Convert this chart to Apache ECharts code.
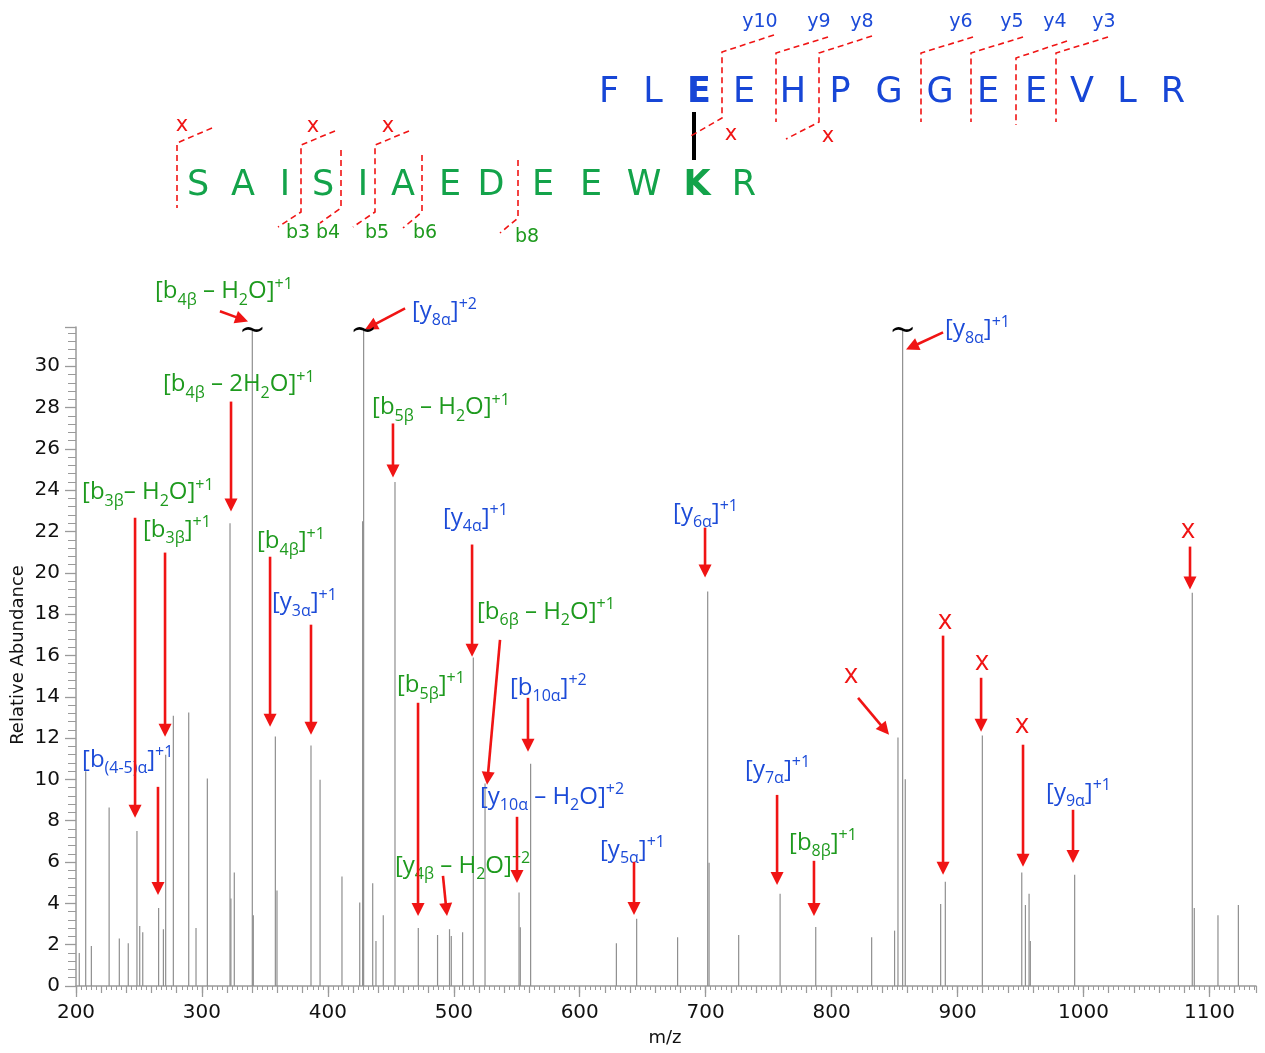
<!DOCTYPE html>
<html><head><meta charset="utf-8">
<script src="https://cdn.jsdelivr.net/npm/echarts@6/dist/echarts.min.js"></script>
<style>html,body{margin:0;padding:0;background:#fff}#c{width:1265px;height:1053px}</style>
</head><body><div id="c"></div>
<script>
// ---------------- data ----------------
const peakMz = [202.6,207.7,212.2,226.3,234.4,241.5,248.4,250.6,253.0,265.6,269.4,271.2,277.3,289.5,295.3,304.3,322.3,323.0,325.7,340.0,340.8,358.3,359.6,386.6,393.8,411.2,425.3,427.6,428.4,435.6,438.2,444.0,453.3,471.8,487.1,496.6,498.0,507.0,515.5,524.8,551.8,552.8,561.0,629.1,645.2,677.7,701.6,702.7,726.2,759.1,787.4,831.8,850.0,852.7,856.4,858.5,886.6,890.3,919.7,951.0,953.9,956.8,957.8,993.0,1086.4,1088.0,1106.8,1123.0];
const peakAbund = [1.6,10.4,1.94,8.64,2.3,2.07,7.5,2.9,2.6,3.78,2.75,11.2,13.08,13.24,2.81,10.05,22.4,4.23,5.49,31.8,3.42,12.08,4.62,11.64,9.98,5.3,4.04,22.5,31.8,4.97,2.18,3.42,24.4,2.81,2.47,2.75,2.42,2.6,15.9,9.8,4.52,2.84,10.76,2.07,3.25,2.36,19.1,5.97,2.47,4.46,2.86,2.36,2.68,12.03,31.8,10.01,3.97,5.05,12.13,5.49,3.92,4.46,2.18,5.39,19.04,3.78,3.42,3.92];
const clippedMz = [340.0, 428.4, 856.4];   // off-scale peaks, marked with "~"
const clipTop = 31.8;

// annotation labels: [markup, colour key, m/z of left edge, abundance of text middle]
const annLabels = [
 ['[b_{4β} – H_{2}O]^{+1}', 'g', 262.7, 33.62],
 ['[b_{4β} – 2H_{2}O]^{+1}', 'g', 269.1, 29.12],
 ['[b_{5β} – H_{2}O]^{+1}', 'g', 435.1, 28.00],
 ['[b_{3β}– H_{2}O]^{+1}', 'g', 204.8, 23.89],
 ['[b_{3β}]^{+1}', 'g', 253.2, 22.09],
 ['[b_{4β}]^{+1}', 'g', 343.7, 21.51],
 ['[b_{6β} – H_{2}O]^{+1}', 'g', 518.4, 18.12],
 ['[b_{5β}]^{+1}', 'g', 454.9, 14.54],
 ['[y_{4β} – H_{2}O]^{+2}', 'g', 453.3, 5.81],
 ['[b_{8β}]^{+1}', 'g', 766.2, 6.93],
 ['[y_{8α}]^{+2}', 'b', 466.8, 32.66],
 ['[y_{8α}]^{+1}', 'b', 890.1, 31.78],
 ['[y_{4α}]^{+1}', 'b', 491.4, 22.67],
 ['[y_{6α}]^{+1}', 'b', 674.1, 22.87],
 ['[y_{3α}]^{+1}', 'b', 355.6, 18.56],
 ['[b_{10α}]^{+2}', 'b', 544.6, 14.44],
 ['[b_{(4-5)α}]^{+1}', 'b', 204.8, 10.95],
 ['[y_{10α} – H_{2}O]^{+2}', 'b', 520.8, 9.16],
 ['[y_{7α}]^{+1}', 'b', 731.3, 10.47],
 ['[y_{5α}]^{+1}', 'b', 616.1, 6.59],
 ['[y_{9α}]^{+1}', 'b', 970.3, 9.35]
];
// red "x" marks: [m/z centre, abundance centre]
const annX = [[815.4,15.02],[890.1,17.64],[919.5,15.65],[951.2,12.60],[1083.0,22.04]];
// arrows: [m/z from, abundance from, m/z to, abundance to]
const annArrows = [
 [314.3,32.66,336.6,32.17],[323.1,28.29,323.1,22.97],[451.7,27.23,451.7,24.61],
 [246.9,22.67,246.9,8.14],[270.7,20.98,270.7,12.06],[354.1,20.78,354.1,12.55],
 [536.7,16.76,526.4,9.74],[471.6,13.71,471.6,3.39],[491.4,5.33,494.6,3.39],
 [786.0,6.06,786.0,3.39],[461.3,32.80,429.5,31.78],[888.5,31.64,859.1,30.81],
 [514.5,21.37,514.5,15.94],[699.5,22.19,699.5,19.77],[386.6,17.49,386.6,12.16],
 [558.9,13.95,558.9,11.34],[265.1,9.64,265.1,4.41],[550.2,8.19,550.2,4.99],
 [756.7,9.25,756.7,4.89],[643.1,6.01,643.1,3.44],[991.7,8.53,991.7,5.96],
 [821.0,13.95,845.6,12.16],[888.5,16.96,888.5,5.38],[918.7,14.92,918.7,12.31],
 [952.0,11.68,952.0,5.77],[1084.6,21.27,1084.6,19.19]
];

// peptide sequences
const seqAlpha = ['F','L','E','E','H','P','G','G','E','E','V','L','R'];
const seqBeta  = ['S','A','I','S','I','A','E','D','E','E','W','K','R'];

// ---------------- layout / style ----------------
const BLUE = '#1c4bd8', GREEN = '#1e9a1e', SEQ_BLUE = '#1746d6', SEQ_GREEN = '#13a34a', RED = '#f01414';
const LBL_FONT = "'Open Sans'";
const F_MAIN = 24, F_SMALL = 16;
const AXIS_COL = '#9a9a9a';

const chart = echarts.init(document.getElementById('c'), null, {renderer: 'canvas'});
const option = {
  animation: false,
  backgroundColor: '#fff',
  grid: {left: 76, right: 9, top: 327, bottom: 67, containLabel: false},
  xAxis: [
    {type: 'value', min: 200, max: 1137, interval: 100, position: 'bottom',
     axisLine: {lineStyle: {color: AXIS_COL, width: 1.5}},
     axisTick: {length: 11, lineStyle: {color: AXIS_COL, width: 1.3}},
     axisLabel: {fontFamily: 'DejaVu Sans', fontSize: 20, color: '#111', margin: 17,
                 formatter: v => (Math.abs(v % 100) < 1e-6 ? String(v) : ''), showMaxLabel: false},
     splitLine: {show: false}},
    {type: 'value', min: 200, max: 1137, interval: 20, position: 'bottom',
     axisLine: {show: false}, axisLabel: {show: false}, splitLine: {show: false},
     axisTick: {length: 7, lineStyle: {color: AXIS_COL, width: 1.2}},
     minorTick: {show: true, splitNumber: 5, length: 4, lineStyle: {color: AXIS_COL, width: 1}}}
  ],
  yAxis: {type: 'value', min: 0, max: 31.9, interval: 2,
     axisLine: {show: true, lineStyle: {color: AXIS_COL, width: 1.5}},
     axisTick: {show: true, length: 11, lineStyle: {color: AXIS_COL, width: 1.3}},
     minorTick: {show: true, splitNumber: 5, length: 8, lineStyle: {color: AXIS_COL, width: 1}},
     axisLabel: {fontFamily: 'DejaVu Sans', fontSize: 20, color: '#111', margin: 16,
                 formatter: v => (Math.abs(v % 2) < 1e-6 ? String(v) : ''), showMaxLabel: false},
     splitLine: {show: false}},
  series: [{
    type: 'custom', xAxisIndex: 0, yAxisIndex: 0, clip: true,
    data: peakMz.map((m, i) => [m, peakAbund[i]]),
    encode: {x: 0, y: 1},
    renderItem: (params, api) => {
      const x = api.value(0), y = api.value(1);
      const p0 = api.coord([x, 0]), p1 = api.coord([x, y]);
      return {type: 'line', shape: {x1: p0[0], y1: p0[1], x2: p1[0], y2: p1[1]},
              style: {stroke: '#8f8f8f', lineWidth: 1.2}};
    }
  }]
};
chart.setOption(option);

// ---------------- annotations ----------------
const mctx = document.createElement('canvas').getContext('2d');
function tw(t, font) { mctx.font = font; return mctx.measureText(t).width; }
const toPx = (x, y) => chart.convertToPixel({xAxisIndex: 0, yAxisIndex: 0}, [x, y]);

function txt(t, x, y, font, fill, align, valign, extra) {
  return Object.assign({type: 'text', x: x, y: y, z: 100, silent: true,
    style: {text: t, font: font, fill: fill, textAlign: align || 'left', textVerticalAlign: valign || 'middle',
            align: align || 'left', verticalAlign: valign || 'middle'}}, extra || {});
}
function richLabel(str, color, x, y) {
  const segs = []; const re = /_\{([^}]*)\}|\^\{([^}]*)\}|([^_^]+)/g; let m;
  while ((m = re.exec(str))) {
    if (m[1] !== undefined) segs.push([m[1], 1]);
    else if (m[2] !== undefined) segs.push([m[2], 2]);
    else segs.push([m[3], 0]);
  }
  const els = []; let cx = x;
  const baseMain = y + 0.35 * F_MAIN;
  segs.forEach(([t, k]) => {
    const fs = k === 0 ? F_MAIN : F_SMALL;
    const font = fs + 'px ' + LBL_FONT;
    let base = baseMain;
    if (k === 1) base = baseMain + 6;
    if (k === 2) base = baseMain - 10;
    els.push(txt(t, cx, base - 0.35 * fs, font, color));
    cx += tw(t, font);
  });
  return els;
}
function arrow(x1, y1, x2, y2) {
  const dx = x2 - x1, dy = y2 - y1, L = Math.hypot(dx, dy), ux = dx / L, uy = dy / L;
  const hl = 13, hw = 6.5, bx = x2 - ux * hl, by = y2 - uy * hl;
  return [
    {type: 'line', z: 100, silent: true, shape: {x1: x1, y1: y1, x2: bx + ux, y2: by + uy}, style: {stroke: RED, lineWidth: 2.6}},
    {type: 'polygon', z: 100, silent: true, shape: {points: [[x2, y2], [bx - uy * hw, by + ux * hw], [bx + uy * hw, by - ux * hw]]}, style: {fill: RED}}
  ];
}
function dashed(points) {
  return {type: 'polyline', z: 100, silent: true, shape: {points: points},
          style: {stroke: RED, lineWidth: 1.6, lineDash: [6, 4], fill: null}};
}

const g = [];
annLabels.forEach(([s, c, mz, v]) => { const p = toPx(mz, v); g.push(...richLabel(s, c === 'g' ? GREEN : BLUE, p[0], p[1])); });
annX.forEach(([mz, v]) => { const p = toPx(mz, v); g.push(txt('x', p[0], p[1], '27px ' + LBL_FONT, RED, 'center', 'middle')); });
annArrows.forEach(([a, b, c, d]) => { const p = toPx(a, b), q = toPx(c, d); g.push(...arrow(p[0], p[1], q[0], q[1])); });
clippedMz.forEach(mz => { const p = toPx(mz, clipTop); g.push(txt('~', p[0], p[1] + 3, "32px 'DejaVu Serif'", '#000', 'center', 'middle')); });

// axis names
g.push(txt('Relative Abundance', 18, 655, "18px 'DejaVu Sans'", '#111', 'center', 'middle', {rotation: Math.PI / 2}));
g.push(txt('m/z', 665, 1038, "18px 'DejaVu Sans'", '#111', 'center', 'middle'));

// peptide alpha (blue) and beta (green)
const alphaX = [609,653,699,744,793,840,889,940,988,1036,1082,1127,1173];
const betaX  = [198,243,285,323,363,403,450,491,543,591,644,697,744];
seqAlpha.forEach((ch, i) => g.push(txt(ch, alphaX[i], 93, (i === 2 ? 'bold ' : '') + "35px 'DejaVu Sans'", SEQ_BLUE, 'center', 'middle')));
seqBeta.forEach((ch, i) => g.push(txt(ch, betaX[i], 186, (i === 11 ? 'bold ' : '') + "35px 'DejaVu Sans'", SEQ_GREEN, 'center', 'middle')));
// cross-link bar
g.push({type: 'rect', z: 100, silent: true, shape: {x: 692, y: 112, width: 4, height: 48}, style: {fill: '#000'}});

// fragmentation markers (beta / b ions)
[
  [[212,128],[177,143],[177,208]],
  [[335,131],[301,145],[301,212],[278,227]],
  [[341,150],[341,208],[320,223]],
  [[409,131],[375,145],[375,212],[353,227]],
  [[422,155],[422,212],[403,228]],
  [[518,160],[518,218],[500,233]]
].forEach(p => g.push(dashed(p)));
[['b3',298,233],['b4',328,233],['b5',377,233],['b6',425,233],['b8',527,237]]
  .forEach(([t,x,y]) => g.push(txt(t, x, y, "19px 'DejaVu Sans'", GREEN, 'center', 'middle')));
// (alpha / y ions)
[
  [[774,35],[722,52],[722,118],[689,137]],
  [[828,37],[776,53],[776,122]],
  [[872,36],[819,53],[819,122],[786,139]],
  [[973,37],[921,53],[921,122]],
  [[1023,37],[971,53],[971,122]],
  [[1067,41],[1016,58],[1016,125]],
  [[1108,37],[1056,53],[1056,122]]
].forEach(p => g.push(dashed(p)));
[['y10',760,22],['y9',819,22],['y8',862,22],['y6',961,22],['y5',1012,22],['y4',1055,22],['y3',1104,22]]
  .forEach(([t,x,y]) => g.push(txt(t, x, y, "19px 'DejaVu Sans'", BLUE, 'center', 'middle')));
[[182,126],[313,127],[388,127],[731,135],[828,137]]
  .forEach(([x,y]) => g.push(txt('x', x, y, "21px 'DejaVu Sans'", RED, 'center', 'middle')));

chart.setOption({graphic: {elements: g}});
</script>
</body></html>
